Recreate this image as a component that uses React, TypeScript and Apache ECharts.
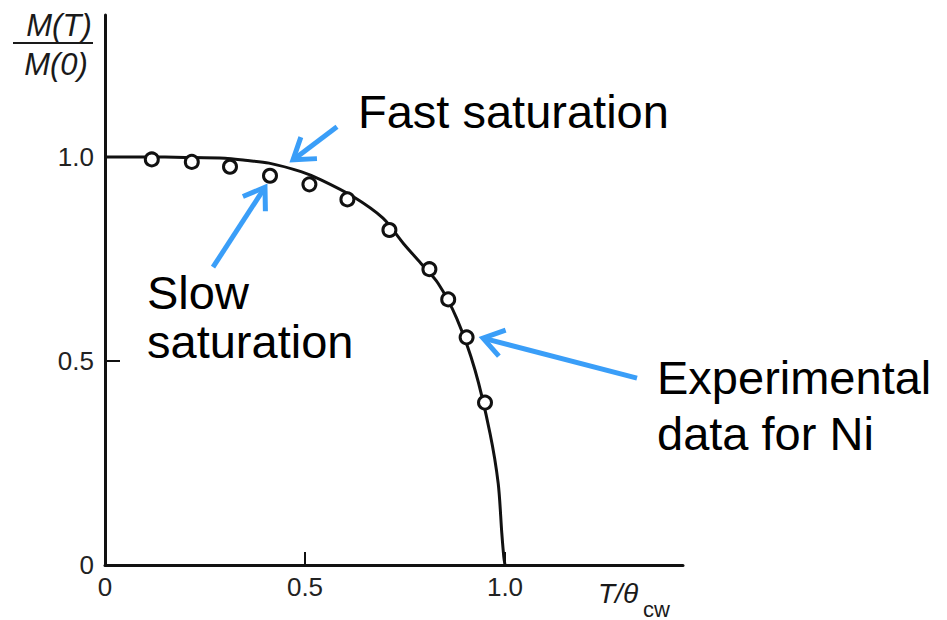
import React, { useEffect, useRef } from "react";
import * as echarts from "echarts";

// Theoretical (mean-field) curve
const curveX = [0, 0.1, 0.2, 0.3, 0.35, 0.41, 0.49, 0.54, 0.62, 0.695, 0.746, 0.79, 0.833, 0.879, 0.925, 0.9625, 0.983, 0.992, 0.997, 1.0];
const curveY = [1.0, 1.0, 0.999, 0.997, 0.992, 0.985, 0.964, 0.944, 0.903, 0.85, 0.788, 0.739, 0.69, 0.605, 0.478, 0.323, 0.2, 0.078, 0.02, 0];

// Experimental data for Ni
const niX = [0.117, 0.217, 0.3125, 0.4125, 0.511, 0.606, 0.711, 0.811, 0.858, 0.904, 0.95];
const niY = [0.994, 0.988, 0.976, 0.954, 0.933, 0.896, 0.821, 0.725, 0.651, 0.558, 0.398];

// Tick values / labels
const xTicks = [0, 0.5, 1.0];
const yTicks = [0, 0.5, 1.0];
const xTickLabels = ["0", "0.5", "1.0"];
const yTickLabels = ["0", "0.5", "1.0"];

// Annotation arrows (tip and tail in data coordinates)
const arrowTipX = [0.47, 0.40, 0.945];
const arrowTipY = [0.993, 0.926, 0.556];
const arrowTailX = [0.58, 0.27, 1.33];
const arrowTailY = [1.074, 0.73, 0.458];

const FONT = "'Liberation Sans', Arial, sans-serif";
const BLUE = "#3A9EF8";
const INK = "#111111";

export default function App() {
  const ref = useRef<HTMLDivElement>(null);

  useEffect(() => {
    document.body.style.margin = "0";
    if (!ref.current) return;
    const chart = echarts.init(ref.current, undefined, { renderer: "svg" });

    const curveData = curveX.map((x, i) => [x, curveY[i]]);
    const niData = niX.map((x, i) => [x, niY[i]]);

    chart.setOption({
      animation: false,
      backgroundColor: "#ffffff",
      grid: { left: 105, top: 15, width: 578, height: 550, containLabel: false },
      xAxis: {
        type: "value",
        min: 0,
        max: 1.445,
        splitLine: { show: false },
        axisLine: { show: true, onZero: false, lineStyle: { color: INK, width: 3 } },
        axisTick: { show: true, inside: true, length: 13, lineStyle: { color: INK, width: 2 }, customValues: xTicks },
        axisLabel: {
          show: true,
          customValues: xTicks,
          margin: 9,
          fontSize: 26,
          fontFamily: FONT,
          color: "#222222",
          formatter: (v: number) => {
            const idx = xTicks.findIndex((t) => Math.abs(t - v) < 1e-6);
            return idx >= 0 ? xTickLabels[idx] : "";
          },
        },
      },
      yAxis: {
        type: "value",
        min: 0,
        max: 1.348,
        splitLine: { show: false },
        axisLine: { show: true, onZero: false, lineStyle: { color: INK, width: 3 } },
        axisTick: { show: true, inside: true, length: 15, lineStyle: { color: INK, width: 2 }, customValues: yTicks },
        axisLabel: {
          show: true,
          customValues: yTicks,
          margin: 11,
          fontSize: 26,
          fontFamily: FONT,
          color: "#222222",
          formatter: (v: number) => {
            const idx = yTicks.findIndex((t) => Math.abs(t - v) < 1e-6);
            return idx >= 0 ? yTickLabels[idx] : "";
          },
        },
      },
      series: [
        {
          type: "line",
          data: curveData,
          smooth: 0.3,
          showSymbol: false,
          symbol: "none",
          lineStyle: { color: INK, width: 3 },
          z: 2,
        },
        {
          type: "scatter",
          data: niData,
          symbol: "circle",
          symbolSize: 13,
          itemStyle: { color: "#ffffff", borderColor: INK, borderWidth: 3, opacity: 1 },
          z: 3,
        },
      ],
    });

    const L = 24;
    const th = (34 * Math.PI) / 180;
    const arrows: any[] = [];
    arrowTipX.forEach((_, i) => {
      const tip = chart.convertToPixel({ gridIndex: 0 }, [arrowTipX[i], arrowTipY[i]]) as number[];
      const tail = chart.convertToPixel({ gridIndex: 0 }, [arrowTailX[i], arrowTailY[i]]) as number[];
      const a = Math.atan2(tip[1] - tail[1], tip[0] - tail[0]);
      const p1 = [tip[0] - L * Math.cos(a - th), tip[1] - L * Math.sin(a - th)];
      const p2 = [tip[0] - L * Math.cos(a + th), tip[1] - L * Math.sin(a + th)];
      arrows.push({
        type: "line",
        shape: { x1: tail[0], y1: tail[1], x2: tip[0] - 2 * Math.cos(a), y2: tip[1] - 2 * Math.sin(a) },
        style: { stroke: BLUE, lineWidth: 5, lineCap: "butt" },
        z: 10,
      });
      arrows.push({
        type: "polyline",
        shape: { points: [p1, tip, p2] },
        style: { stroke: BLUE, lineWidth: 5, lineCap: "butt", lineJoin: "miter", fill: null },
        z: 10,
      });
    });

    const bigText = (text: string, x: number, y: number) => ({
      type: "text",
      x,
      y,
      style: {
        text,
        fontSize: 47,
        fontFamily: FONT,
        fill: "#000000",
        align: "left",
        verticalAlign: "middle",
      },
      z: 11,
    });

    chart.setOption({
      graphic: [
        ...arrows,
        bigText("Fast saturation", 358, 111),
        bigText("Slow", 147, 292),
        bigText("saturation", 147, 341),
        bigText("Experimental", 657, 377),
        bigText("data for Ni", 657, 433),
        {
          type: "text",
          x: 59,
          y: 25,
          style: { text: "M(T)", fontSize: 31, fontStyle: "italic", fontFamily: FONT, fill: "#1a1a1a", align: "center", verticalAlign: "middle" },
        },
        {
          type: "line",
          shape: { x1: 13, y1: 43, x2: 93, y2: 43 },
          style: { stroke: "#1a1a1a", lineWidth: 2 },
        },
        {
          type: "text",
          x: 56,
          y: 64,
          style: { text: "M(0)", fontSize: 31, fontStyle: "italic", fontFamily: FONT, fill: "#1a1a1a", align: "center", verticalAlign: "middle" },
        },
        {
          type: "text",
          x: 598,
          y: 593,
          style: { text: "T/θ", fontSize: 28, fontStyle: "italic", fontFamily: FONT, fill: "#1a1a1a", align: "left", verticalAlign: "middle" },
        },
        {
          type: "text",
          x: 643,
          y: 609,
          style: { text: "cw", fontSize: 22, fontFamily: FONT, fill: "#1a1a1a", align: "left", verticalAlign: "middle" },
        },
      ],
    });

    return () => {
      chart.dispose();
    };
  }, []);

  return <div ref={ref} style={{ width: 947, height: 620 }} />;
}
